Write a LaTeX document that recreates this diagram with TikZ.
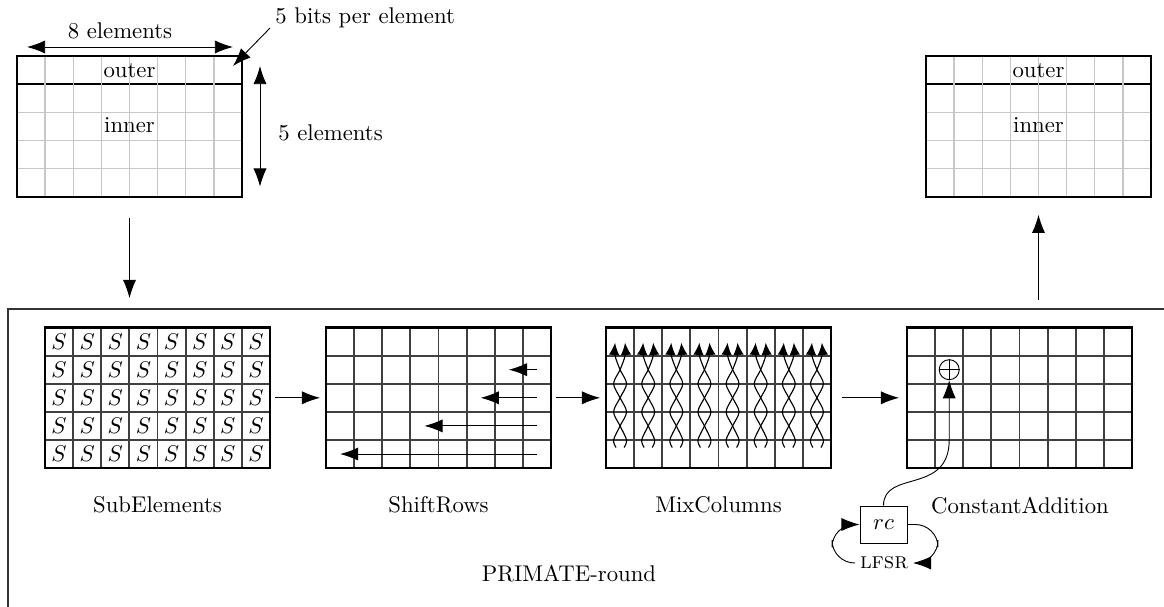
\documentclass[tikz,border=0pt]{standalone}
\usetikzlibrary{arrows.meta}
\begin{document}
\begin{tikzpicture}[x=0.44pt,y=-0.44pt,
  bigtip/.style={-{Latex[length=8pt,width=5.8pt]}},
  dbltip/.style={{Latex[length=8pt,width=5.8pt]}-{Latex[length=8pt,width=5.8pt]}},
  smalltip/.style={-{Latex[length=5.4pt,width=4.6pt]}},
  statebox/.style={minimum width=99pt, minimum height=61.875pt, inner sep=0pt, outer sep=0pt, anchor=north west},
  lbl/.style={inner sep=0pt},
]
% page area
\useasboundingbox (0,0) rectangle (1164,607);

% ---------- helpers ----------
\newcommand\lightstate[1]{%
  \begin{scope}[shift={(#1.north west)}]
    \draw[line width=0.9pt] (0,28.125) -- (225,28.125);
    \foreach \i in {1,...,7} \draw[black!22, line width=0.6pt] (\i*28.125,0) -- (\i*28.125,140.625);
    \foreach \j in {2,...,4} \draw[black!22, line width=0.6pt] (0,\j*28.125) -- (225,\j*28.125);
    \draw[line width=0.9pt] (0,0) rectangle (225,140.625);
  \end{scope}}
\newcommand\roundgrid[1]{%
  \begin{scope}[shift={(#1.north west)}]
    \foreach \i in {1,...,7}
      \draw[black!75, line width=0.85pt] (\i*28.125,0) -- (\i*28.125,140.625);
    \foreach \j in {1,...,4}
      \draw[black!75, line width=0.85pt] (0,\j*28.125) -- (225,\j*28.125);
    \draw[line width=0.95pt] (0,0) rectangle (225,140.625);
  \end{scope}}

% ---------- input state ----------
\node[statebox] (in) at (17,56) {};
\lightstate{in}
\node[lbl] (inouter) at (129.5,71) {outer};
\node[lbl] (ininner) at (129.5,125.5) {inner};
\node[lbl] (eightel) at (120,31) {8 elements};
\draw[dbltip] ([shift={(10,-9)}]in.north west) -- ([shift={(-9,-9)}]in.north east);
\node[lbl, anchor=base west] (bits) at (275,23.5) {5 bits per element};
\coordinate (topcell) at ([shift={(-9,10)}]in.north east);
\draw[bigtip] ([xshift=-2.2pt,yshift=-2pt]bits.base west) -- (topcell);
\draw[dbltip] ([shift={(18,10)}]in.north east) -- ([shift={(18,-10)}]in.south east);
\node[lbl, anchor=west] (fiveel) at (278,133) {5 elements};

% ---------- output state ----------
\node[statebox] (out) at (926,56) {};
\lightstate{out}
\node[lbl] (outouter) at (1038.5,71) {outer};
\node[lbl] (outinner) at (1038.5,125.5) {inner};

% ---------- round frame ----------
\coordinate (roundtop) at (8,309);
\draw[black!80, line width=0.5pt] (8,607) -- (roundtop) -- (1164,309);
\node[lbl] (roundlbl) at (569,574) {PRIMATE-round};

\draw[bigtip, shorten <=9.2pt, shorten >=4.8pt] (in.south) -- (in.south |- roundtop);
\draw[bigtip, shorten <=4pt, shorten >=8pt] (out.south |- roundtop) -- (out.south);

% ---------- SubElements ----------
\node[statebox] (sub) at (45,327.5) {};
\roundgrid{sub}
\foreach \i in {0,...,7} \foreach \j in {0,...,4}
  \node[lbl] (s-\i-\j) at ([shift={({(\i+0.5)*28.125},{(\j+0.5)*28.125})}]sub.north west) {$S$};
\node[lbl] (sublbl) at (157.5,505) {SubElements};

% ---------- ShiftRows ----------
\node[statebox] (shift) at (326,327.5) {};
\roundgrid{shift}
\begin{scope}[shift={(shift.north west)}]
  \foreach \j/\s in {1/1,2/2,3/4,4/7}
    \draw[bigtip] ({7.5*28.125},{\j*28.125+14.06}) -- ({(7.5-\s)*28.125},{\j*28.125+14.06});
\end{scope}
\node[lbl] (shiftlbl) at (438.5,505) {ShiftRows};

% ---------- MixColumns ----------
\node[statebox] (mix) at (606,327.5) {};
\roundgrid{mix}
\begin{scope}[shift={(mix.north west)}, line width=0.5pt]
  \foreach \i in {0,...,7} {
    \pgfmathsetmacro\cx{(\i+0.5)*28.125}
    \draw[smalltip] plot[smooth, tension=0.5] coordinates {(\cx+4,120) (\cx+6.5,112.5) (\cx,98.4) (\cx-6.5,84.4) (\cx,70.3) (\cx+6.5,56.25) (\cx,42.2) (\cx-5,28.1) (\cx-5,15.2)};
    \draw[smalltip] plot[smooth, tension=0.5] coordinates {(\cx-4,120) (\cx-6.5,112.5) (\cx,98.4) (\cx+6.5,84.4) (\cx,70.3) (\cx-6.5,56.25) (\cx,42.2) (\cx+5,28.1) (\cx+5,15.2)};
  }
\end{scope}
\node[lbl] (mixlbl) at (718.5,505) {MixColumns};

% ---------- ConstantAddition ----------
\node[statebox] (add) at (907,327.5) {};
\roundgrid{add}
\node[circle, draw, fill=white, minimum size=8.8pt, inner sep=0pt] (xor) at (949.2,369.7) {};
\draw (xor.north) -- (xor.south) (xor.west) -- (xor.east);
\node[lbl] (addlbl) at (1020,506) {ConstantAddition};

\node[draw, minimum width=20.7pt, minimum height=16.3pt, inner sep=0pt] (rc) at (883.5,524.5) {$rc$};
\node[inner sep=2pt] (lfsr) at (884,563) {\textsc{lfsr}};
\coordinate (bend) at (949.2,440);
\draw[bigtip] (rc.north) .. controls +(0,-36) and +(0,55) .. (bend) -- (xor.south);
\draw[bigtip, rounded corners=10pt] (lfsr.west) -- (832,563) -- (832,524.5) -- (rc.west);
\draw[bigtip, rounded corners=10pt] (rc.east) -- (938,524.5) -- (938,563) -- (lfsr.east);

% ---------- flow between steps ----------
\draw[bigtip, shorten <=2.2pt, shorten >=2.6pt] (sub.east) -- (shift.west);
\draw[bigtip, shorten <=2.2pt, shorten >=2.6pt] (shift.east) -- (mix.west);
\draw[bigtip, shorten <=4.8pt, shorten >=3.5pt] (mix.east) -- (add.west);
\end{tikzpicture}
\end{document}
